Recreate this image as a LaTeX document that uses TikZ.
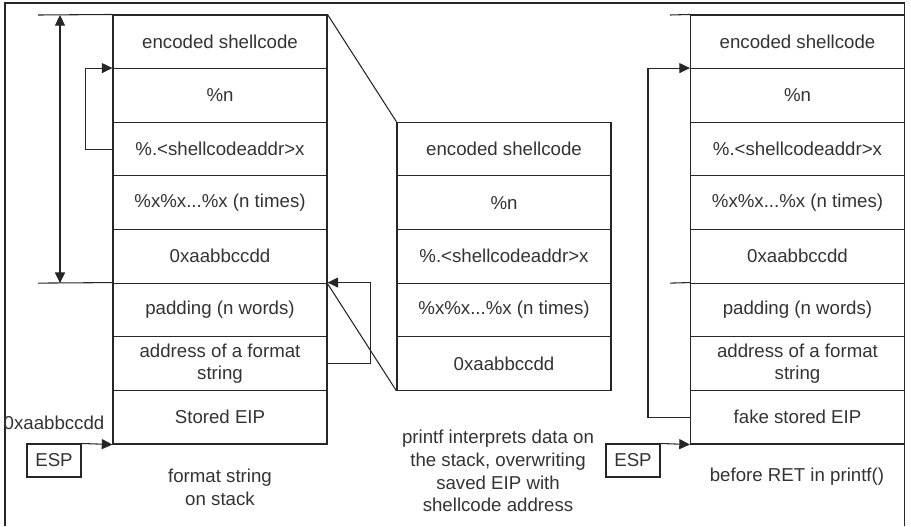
\documentclass[tikz,border=0pt]{standalone}
\usepackage{fontspec}
\setmainfont{Liberation Sans}
\usetikzlibrary{arrows.meta,calc}
\begin{document}
\begin{tikzpicture}[x=0.75pt,y=-0.75pt,
  line width=0.8pt,
  ln/.style={draw=black!85, line width=0.8pt},
  cell/.style={draw=black!85, line width=0.8pt, minimum width=160.5pt, minimum height=40.2pt, inner sep=0pt, text=black!80, font=\fontsize{14}{17}\selectfont, align=center},
  lbl/.style={text=black!80, font=\fontsize{14}{17}\selectfont, align=center, inner sep=0pt},
  espbox/.style={draw=black!85, line width=0.8pt, minimum width=40.5pt, minimum height=24.75pt, inner sep=0pt, text=black!80, font=\fontsize{14}{17}\selectfont},
  tip/.style={-{Triangle[length=8pt,width=7.5pt]}},
]
\useasboundingbox (0,0) rectangle (911,526);
% outer frame
\draw[ln] (5,526) -- (5,3) -- (904.5,3) -- (904.5,526);

% left column
\node[cell] (a1) at (220,41.8) {encoded shellcode};
\node[cell] (a2) at (220,95.4) {\%n};
\node[cell] (a3) at (220,149.1) {\%.<shellcodeaddr>x};
\node[cell] (a4) at (220,202.7) {\%x\%x...\%x (n times)};
\node[cell] (a5) at (220,256.3) {0xaabbccdd};
\node[cell] (a6) at (220,309.9) {padding (n words)};
\node[cell] (a7) at (220,363.6) {address of a format\\string};
\node[cell] (a8) at (220,417.2) {Stored EIP};

% middle column
\node[cell] (m1) at (504,149.1) {encoded shellcode};
\node[cell] (m2) at (504,202.7) {\%n};
\node[cell] (m3) at (504,256.3) {\%.<shellcodeaddr>x};
\node[cell] (m4) at (504,309.9) {\%x\%x...\%x (n times)};
\node[cell] (m5) at (504,363.6) {0xaabbccdd};

% right column
\node[cell] (r1) at (797.5,41.8) {encoded shellcode};
\node[cell] (r2) at (797.5,95.4) {\%n};
\node[cell] (r3) at (797.5,149.1) {\%.<shellcodeaddr>x};
\node[cell] (r4) at (797.5,202.7) {\%x\%x...\%x (n times)};
\node[cell] (r5) at (797.5,256.3) {0xaabbccdd};
\node[cell] (r6) at (797.5,309.9) {padding (n words)};
\node[cell] (r7) at (797.5,363.6) {address of a format\\string};
\node[cell] (r8) at (797.5,417.2) {fake stored EIP};

% extension lines
\coordinate (lt) at (38,15);
\coordinate (lb) at (38,283.1);
\coordinate (rt) at (670,15);
\coordinate (rb) at (670,283.1);
\draw[ln] (lt) -- (a1.north west);
\draw[ln] (lb) -- (a6.north west);
\draw[ln] (rt) -- (r1.north west);
\draw[ln] (rb) -- (r6.north west);

% span arrow
\coordinate (d1) at (60,15);
\coordinate (d2) at (60,283.1);
\draw[ln, {Triangle[length=8pt,width=7.5pt]}-{Triangle[length=8pt,width=7.5pt]}] (d1) -- (d2);

% zoom lines
\draw[ln] (a1.north east) -- (m1.north west);
\draw[ln] (a5.south east) -- (m5.south west);

% loops
\draw[ln, tip] (a3.west) -- ++(-27,0) |- (a2.north west);
\draw[ln, tip] (a7.east) -- ++(43,0) |- (a6.north east);
\draw[ln, tip] (r8.west) -- ++(-42,0) |- (r2.north west);

% ESP
\node[espbox] (e1) at (54,460.5) {ESP};
\node[espbox] (e2) at (633,460.5) {ESP};
\draw[ln, tip] (e1.north east) -- (a8.south west);
\draw[ln, tip] (e2.north east) -- (r8.south west);

% labels
\node[lbl] (addr) at (54,423) {0xaabbccdd};
\node[lbl] (cap1) at (220,487.5) {format string\\on stack};
\node[lbl] (cap2) at (498,471) {printf interprets data on\\the stack, overwriting\\saved EIP with\\shellcode address};
\node[lbl] (cap3) at (797,477) {before RET in printf()};
\end{tikzpicture}
\end{document}
